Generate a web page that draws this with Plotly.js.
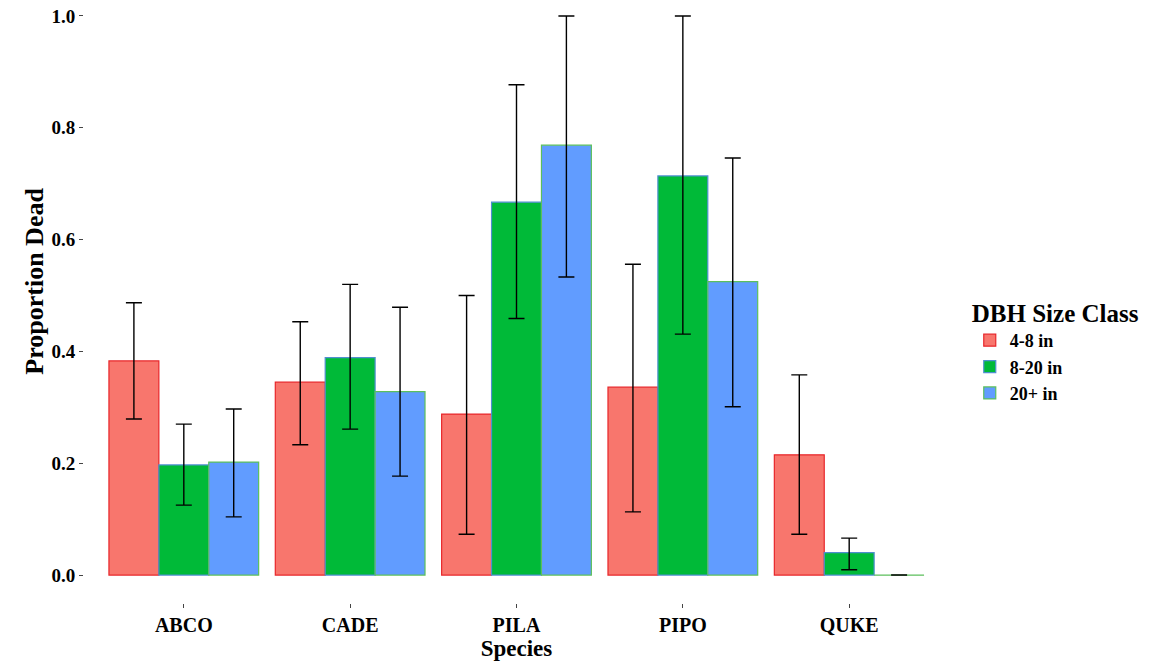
<!DOCTYPE html>
<html>
<head>
<meta charset="utf-8">
<script src="https://cdn.plot.ly/plotly-3.0.1.min.js"></script>
<style>html,body{margin:0;padding:0;background:#fff;}#chart{width:1158px;height:663px;}</style>
</head>
<body>
<div id="chart"></div>
<script>
const species = ["ABCO", "CADE", "PILA", "PIPO", "QUKE"];
const sizeClasses = ["4-8 in", "8-20 in", "20+ in"];

const small = [0.383, 0.345, 0.288, 0.336, 0.215];
const smallUpper = [0.487, 0.453, 0.500, 0.556, 0.358];
const smallLower = [0.279, 0.233, 0.073, 0.113, 0.073];

const medium = [0.197, 0.389, 0.667, 0.714, 0.040];
const mediumUpper = [0.270, 0.520, 0.877, 1.000, 0.066];
const mediumLower = [0.125, 0.261, 0.459, 0.431, 0.0095];

const large = [0.202, 0.328, 0.769, 0.525, 0.0];
const largeUpper = [0.297, 0.479, 1.000, 0.746, 0.0];
const largeLower = [0.104, 0.177, 0.533, 0.301, 0.0];

const fills = ["#F8766D", "#00BA38", "#619CFF"];
const borders = ["#e8262a", "#4f8fd0", "#5cbf5c"];

function mk(i, vals, up, lo) {
  return {
    type: "bar",
    name: sizeClasses[i],
    x: species,
    y: vals,
    marker: {color: fills[i], line: {color: borders[i], width: 1.2}},
    error_y: {
      type: "data", symmetric: false,
      array: up.map((u, k) => u - vals[k]),
      arrayminus: lo.map((l, k) => vals[k] - l),
      color: "#000", thickness: 1.4, width: 8
    }
  };
}

const data = [
  mk(0, small, smallUpper, smallLower),
  mk(1, medium, mediumUpper, mediumLower),
  mk(2, large, largeUpper, largeLower)
];

const font = "Liberation Serif, Times New Roman, serif";
const layout = {
  width: 1158, height: 663,
  paper_bgcolor: "#fff", plot_bgcolor: "#fff",
  margin: {l: 84, r: 209, t: 0, b: 60},
  barmode: "group", bargap: 0.1, bargroupgap: 0,
  font: {family: font, color: "#000"},
  xaxis: {
    range: [-0.6, 4.6],
    showgrid: false, zeroline: false, showline: false,
    ticks: "outside", ticklen: 4, tickcolor: "#444", tickwidth: 1,
    tickfont: {family: font, size: 20, color: "#000", weight: "bold"},
    title: {text: "<b>Species</b>", font: {family: font, size: 23, color: "#000"}, standoff: 4}
  },
  yaxis: {
    range: [-0.05, 1.0286],
    tickvals: [0, 0.2, 0.4, 0.6, 0.8, 1.0],
    ticktext: ["0.0", "0.2", "0.4", "0.6", "0.8", "1.0"],
    showgrid: false, zeroline: false, showline: false,
    ticks: "outside", ticklen: 4, tickcolor: "#444", tickwidth: 1,
    tickfont: {family: font, size: 19, color: "#000", weight: "bold"}
  },
  annotations: [{
    text: "<b>Proportion Dead</b>", textangle: -90,
    xref: "paper", yref: "paper", x: -0.057, y: 0.534,
    xanchor: "center", yanchor: "middle", showarrow: false,
    font: {family: font, size: 26, color: "#000"}
  }],
  legend: {
    x: 1.024, y: 0.52, xanchor: "left", yanchor: "top",
    title: {text: "<b>DBH Size Class</b>", font: {family: font, size: 25, color: "#000"}},
    font: {family: font, size: 18, color: "#000", weight: "bold"},
    itemwidth: 30, tracegroupgap: 0, bgcolor: "rgba(0,0,0,0)"
  },
  showlegend: true
};

Plotly.newPlot("chart", data, layout, {displayModeBar: false, staticPlot: true});
</script>
</body>
</html>
